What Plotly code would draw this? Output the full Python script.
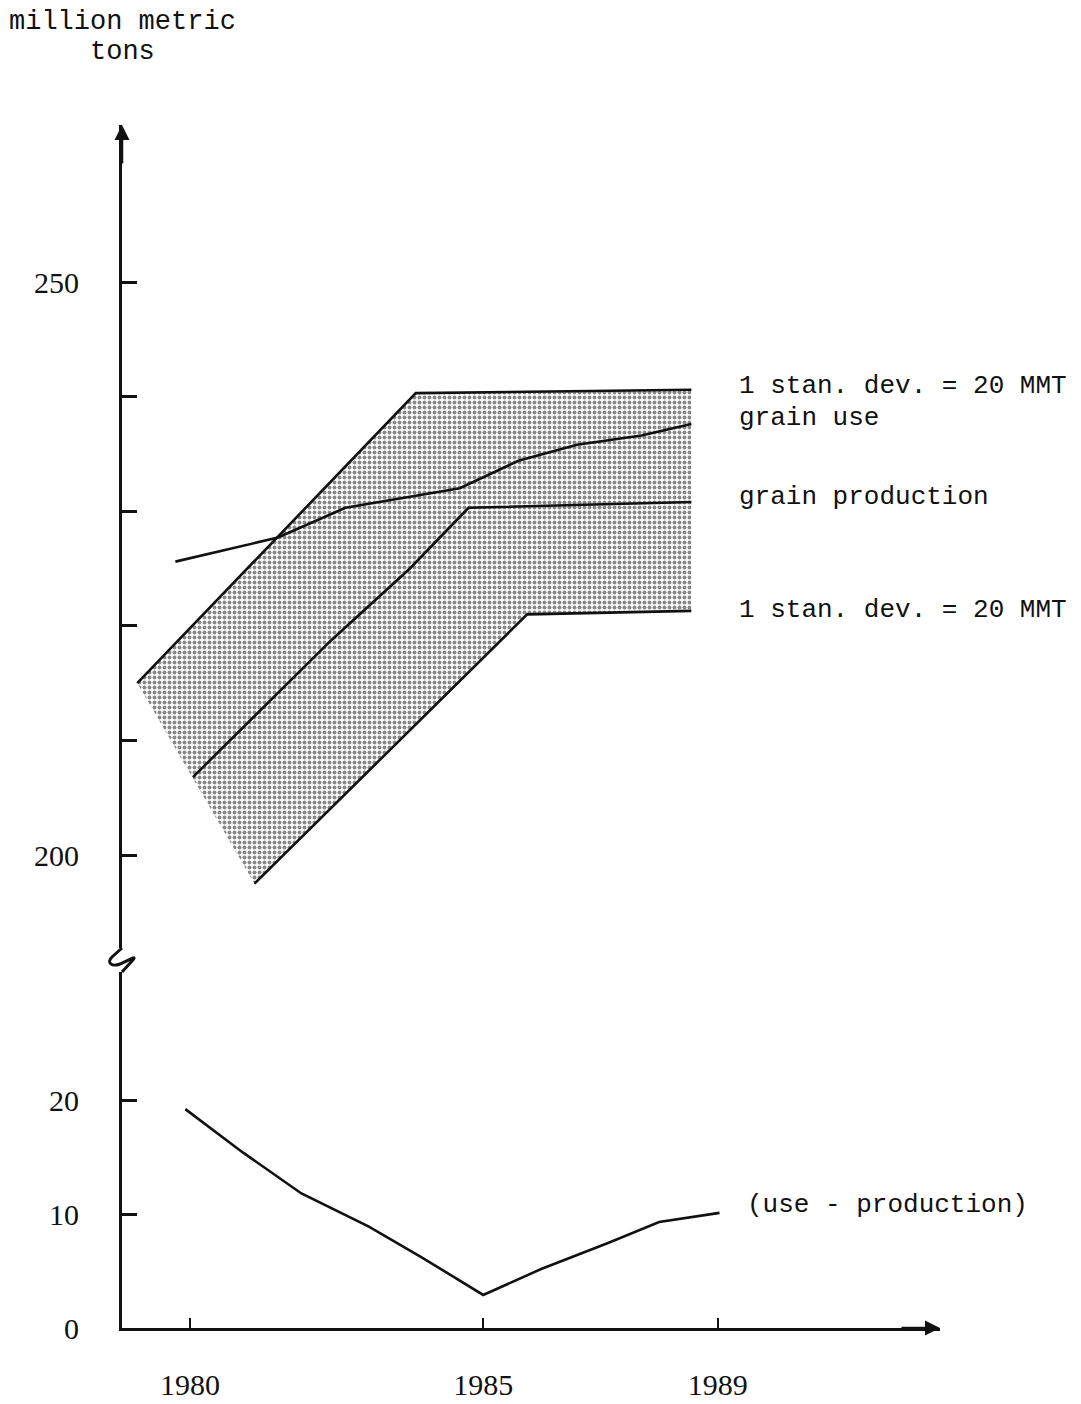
import plotly.graph_objects as go

# ---------------- data ----------------
years_ticks = [1980, 1985, 1989]

# +/- 1 standard deviation band (upper and lower edges)
band_upper_x = [1979.1, 1983.85, 1988.55]
band_upper_y = [215.0, 240.3, 240.6]
band_lower_x = [1981.1, 1985.75, 1988.55]
band_lower_y = [197.5, 221.0, 221.3]

# grain use
use_x = [1979.75, 1981.5, 1982.65, 1984.6, 1985.6, 1986.6, 1987.7, 1988.55]
use_y = [225.6, 227.7, 230.3, 232.0, 234.4, 235.8, 236.6, 237.6]

# grain production
prod_x = [1980.05, 1982.4, 1983.75, 1984.75, 1988.55]
prod_y = [206.8, 218.7, 225.0, 230.3, 230.8]

# use - production
diff_x = [1979.92, 1980.9, 1981.9, 1983.05, 1983.95, 1985.0, 1986.0, 1987.15, 1988.0, 1989.03]
diff_y = [19.2, 15.4, 11.8, 8.9, 6.2, 2.9, 5.2, 7.5, 9.3, 10.1]

upper_ticks = [200, 210, 220, 230, 240, 250]
upper_ticktext = ["200", "", "", "", "", "250"]
lower_ticks = [0, 10, 20]
lower_ticktext = ["0", "10", "20"]

# ---------------- figure geometry (screen pixels; page body has an 8px margin) ----------------
OFF = 8
W, H = 1081 - OFF, 1404 - OFF
PLOT_L, PLOT_R, PLOT_T, PLOT_B = 122, 940, 125, 1328   # screen px
ML, MR, MT = PLOT_L - OFF, W - (PLOT_R - OFF), PLOT_T - OFF
MB = H - (PLOT_B - OFF)
PW, PH = W - ML - MR, H - MT - MB

def py2paper(sy):
    return (PLOT_B - sy) / PH

def px2paper(sx):
    return (sx - PLOT_L) / PW

MONO = "Liberation Mono, Courier New, monospace"
SERIF = "Liberation Serif, Times New Roman, serif"
INK = "#111111"

fig = go.Figure()

# shaded band
fig.add_trace(go.Scatter(
    x=band_upper_x + band_lower_x[::-1],
    y=band_upper_y + band_lower_y[::-1],
    xaxis="x", yaxis="y2",
    fill="toself", mode="lines", line=dict(width=0, color=INK),
    fillcolor="rgba(0,0,0,0)",
    fillpattern=dict(shape=".", size=5, solidity=0.5, fgcolor="#111111", bgcolor="white"),
    hoverinfo="skip", showlegend=False,
))
for xs, ys in [(band_upper_x, band_upper_y), (band_lower_x, band_lower_y),
               (use_x, use_y), (prod_x, prod_y)]:
    fig.add_trace(go.Scatter(x=xs, y=ys, xaxis="x", yaxis="y2", mode="lines",
                             line=dict(color=INK, width=2.6), showlegend=False))

fig.add_trace(go.Scatter(x=diff_x, y=diff_y, xaxis="x", yaxis="y", mode="lines",
                         line=dict(color=INK, width=2.6), showlegend=False))

# axis break position (screen px)
lower_top_px, upper_bot_px = 972, 948
lower_dom_top = py2paper(lower_top_px)
upper_dom_bot = py2paper(upper_bot_px)

up_scale = 11.46                      # px per million tons, upper panel (250 at y=282)
up_top = 250 + (282 - PLOT_T) / up_scale
up_bot = 250 - (upper_bot_px - 282) / up_scale
lo_scale = 11.4                       # px per million tons, lower panel
lo_top = (PLOT_B - lower_top_px) / lo_scale

fig.update_layout(
    width=W, height=H,
    margin=dict(l=ML, r=MR, t=MT, b=MB, autoexpand=False),
    paper_bgcolor="white", plot_bgcolor="white",
    showlegend=False,
    xaxis=dict(
        range=[1978.84, 1992.79], anchor="y", showgrid=False, zeroline=False,
        automargin=False,
        showline=True, linecolor=INK, linewidth=3,
        tickmode="array", tickvals=years_ticks, ticktext=[str(v) for v in years_ticks],
        ticks="inside", ticklen=10, tickwidth=2, tickcolor=INK,
        ticklabelstandoff=28,
        tickfont=dict(family=SERIF, size=30, color=INK),
    ),
    yaxis=dict(
        domain=[0, lower_dom_top], range=[0, lo_top], anchor="x",
        automargin=False,
        showgrid=False, zeroline=False,
        showline=True, linecolor=INK, linewidth=3,
        tickmode="array", tickvals=lower_ticks, ticktext=lower_ticktext,
        ticks="inside", ticklen=15, tickwidth=2.5, tickcolor=INK,
        ticklabelstandoff=34,
        tickfont=dict(family=SERIF, size=30, color=INK),
    ),
    yaxis2=dict(
        domain=[upper_dom_bot, 1], range=[up_bot, up_top], anchor="x",
        automargin=False,
        showgrid=False, zeroline=False,
        showline=True, linecolor=INK, linewidth=3,
        tickmode="array", tickvals=upper_ticks, ticktext=upper_ticktext,
        ticks="inside", ticklen=15, tickwidth=2.5, tickcolor=INK,
        ticklabelstandoff=34,
        tickfont=dict(family=SERIF, size=30, color=INK),
    ),
)

# axis break squiggle (paper coordinates)
def P(dx, sy):
    return f"{px2paper(PLOT_L + dx):.5f},{py2paper(sy):.5f}"

squiggle = (f"M {P(0, upper_bot_px)} L {P(-10, 957)} "
            f"C {P(-16, 963)} {P(-10, 967)} {P(-2, 964)} "
            f"C {P(8, 960)} {P(16, 954)} {P(10, 961)} "
            f"L {P(0, lower_top_px)}")
fig.add_shape(type="path", path=squiggle, xref="paper", yref="paper",
              line=dict(color=INK, width=3))

# arrows at ends of axes
fig.add_annotation(x=0, y=1, xref="paper", yref="paper", text="", showarrow=True,
                   ax=0, ay=40, arrowhead=2, arrowsize=1.2, arrowwidth=2.5, arrowcolor=INK)
fig.add_annotation(x=1, y=0, xref="paper", yref="paper", text="", showarrow=True,
                   ax=-40, ay=0, arrowhead=2, arrowsize=1.2, arrowwidth=2.5, arrowcolor=INK)

# title lines
fig.add_annotation(x=px2paper(122), y=py2paper(22), xref="paper", yref="paper",
                   text="million metric", showarrow=False, xanchor="center", yanchor="middle",
                   font=dict(family=MONO, size=27, color=INK))
fig.add_annotation(x=px2paper(122), y=py2paper(52), xref="paper", yref="paper",
                   text="tons", showarrow=False, xanchor="center", yanchor="middle",
                   font=dict(family=MONO, size=27, color=INK))

# series labels
labels = [
    ("1 stan. dev. = 20 MMT", 1989.33, 240.9, "y2"),
    ("grain use", 1989.33, 238.1, "y2"),
    ("grain production", 1989.33, 231.2, "y2"),
    ("1 stan. dev. = 20 MMT", 1989.33, 221.4, "y2"),
    ("(use - production)", 1989.46, 10.8, "y"),
]
for txt, lx, ly, yr in labels:
    fig.add_annotation(x=lx, y=ly, xref="x", yref=yr, text=txt, showarrow=False,
                       xanchor="left", yanchor="middle",
                       font=dict(family=MONO, size=26, color=INK))

fig.write_html("out.html")
